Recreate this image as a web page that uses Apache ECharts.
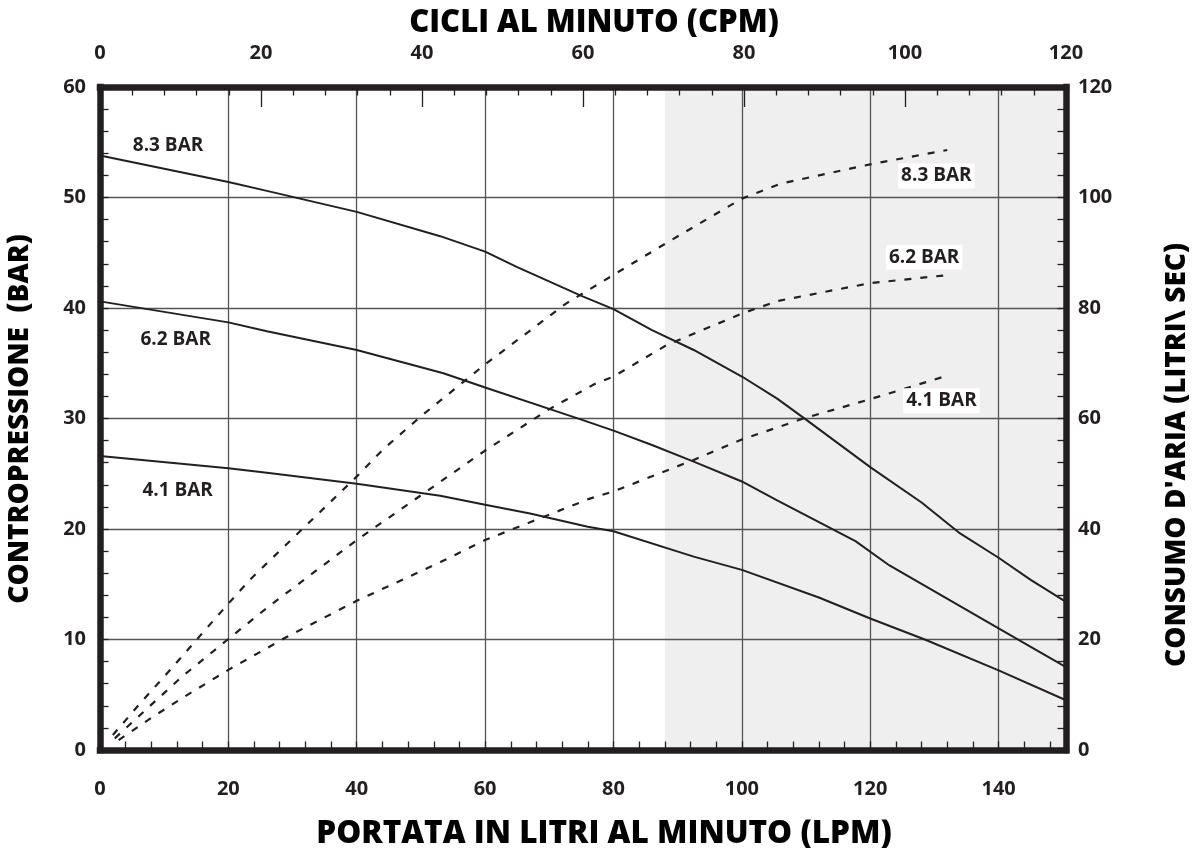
<!DOCTYPE html>
<html>
<head>
<meta charset="utf-8">
<script src="https://cdn.jsdelivr.net/npm/echarts@6/dist/echarts.min.js"></script>
<style>
  html, body { margin: 0; background: #fff; }
  #main { width: 1193px; height: 848px; }
</style>
</head>
<body>
<div id="main"></div>
<script type="text/javascript">

	var ink = '#231f20';

	// contropressione (BAR) against portata (LPM)
	var solid83 = [[0,53.8],[20,51.4],[26,50.6],[40,48.7],[53,46.5],[60,45.1],[65,43.7],[75,41.1],[80,39.9],[86,38.0],[92.5,36.2],[100,33.8],[105.5,31.8],[110,29.9],[120,25.6],[128,22.4],[134,19.6],[140,17.4],[145,15.4],[150.5,13.4]];
	var solid62 = [[0,40.6],[20,38.7],[26,37.9],[40,36.2],[53.5,34.1],[60,32.8],[75,29.9],[80,28.9],[86,27.6],[92.5,26.1],[100,24.3],[105.5,22.6],[117.7,18.9],[123,16.7],[140,11.0],[150.5,7.5]];
	var solid41 = [[0,26.6],[20,25.5],[26,25.1],[40,24.1],[53,23.0],[60,22.2],[67,21.4],[76,20.2],[80,19.8],[92.5,17.5],[100,16.3],[112,13.8],[120,11.9],[128.5,10.0],[140,7.2],[150.5,4.5]];

	// consumo d'aria (litri/sec) against portata (LPM)
	var air83 = [[2,2.7],[6,8.1],[10.7,14.2],[15,19.9],[20,26.5],[23.6,31.1],[40,49.5],[44,54.3],[50,60.4],[60,69.8],[72.6,80.8],[80,86.0],[88.3,91.8],[100,99.8],[106,102.5],[120,106.0],[132,108.6]];
	var air62 = [[2.3,2.1],[6.5,6.6],[12.8,13.3],[20,20.1],[26.2,25.9],[35.2,33.8],[40,38.0],[50,46.1],[60,54.2],[70,61.7],[77,66.2],[80,67.6],[88.3,73.3],[100,79.0],[105.7,81.3],[120,84.5],[132.4,86.0]];
	var air41 = [[2.9,1.8],[7.7,5.6],[12.8,9.4],[20,14.5],[29,20.4],[40,27.0],[53.2,34.1],[60,38.0],[76.3,45.5],[80,46.8],[92.5,52.5],[100,56.2],[109.6,60.0],[120,63.5],[132.4,67.9]];

	var lpmMax = 150.5;
	var shadeFrom = 88;

	// curve labels [name, lpm, value]
	var leftTags = [['8.3 BAR',10.6,54.7],['6.2 BAR',11.8,37.1],['4.1 BAR',12.1,23.5]];
	var rightTags = [['8.3 BAR',130.3,103.9],['6.2 BAR',128.4,89.2],['4.1 BAR',131.1,63.2]];

	var font = 'Open Sans';
	var tickLabel = { color: ink, fontFamily: font, fontWeight: 'bold', fontSize: 20 };
	var border = { show: true, onZero: false, lineStyle: { color: ink, width: 6.5, cap: 'square' } };
	var noLine = { show: false, onZero: false };
	var gridLine = { show: true, lineStyle: { color: '#555', width: 1.3 } };
	var tickStyle = { color: ink, width: 1.3 };

	function tag(t, boxed) {
		return {
			name: t[0], coord: [t[1], t[2]],
			label: {
				show: true, position: 'inside', formatter: '{b}',
				color: ink, fontFamily: font, fontWeight: 'bold', fontSize: 19,
				backgroundColor: boxed ? '#fff' : 'transparent', padding: [3, 3]
			}
		};
	}

	function curve(data, yIdx, dashed, tags, boxed) {
		return {
			type: 'line', xAxisIndex: 0, yAxisIndex: yIdx, data: data,
			showSymbol: false, silent: true,
			lineStyle: { color: ink, width: dashed ? 2.2 : 2, type: dashed ? [7, 9] : 'solid' },
			markPoint: {
				symbol: 'circle', symbolSize: 1, itemStyle: { color: 'rgba(0,0,0,0)' },
				data: tags.map(function (t) { return tag(t, boxed); })
			}
		};
	}

	var chart = echarts.init(document.getElementById('main'));
	chart.setOption({
		animation: false,
		grid: { left: 100, top: 87, width: 966, height: 663 },
		xAxis: [
			{
				type: 'value', position: 'bottom', min: 0, max: lpmMax, interval: 20,
				axisLine: border, axisTick: { show: false },
				axisLabel: Object.assign({ margin: 29, showMaxLabel: false }, tickLabel),
				splitLine: gridLine
			},
			{
				type: 'value', position: 'top', min: 0, max: 120, interval: 20,
				axisLine: border,
				axisTick: { show: true, inside: true, length: 20, lineStyle: tickStyle },
				minorTick: { show: true, splitNumber: 5, length: 8.5, lineStyle: tickStyle },
				axisLabel: Object.assign({ margin: 24 }, tickLabel),
				splitLine: { show: false }
			},
			{
				type: 'value', position: 'bottom', min: 0, max: lpmMax, interval: 4,
				axisLine: noLine,
				axisTick: { show: true, inside: true, length: 8.5, lineStyle: tickStyle },
				axisLabel: { show: false }, splitLine: { show: false }
			}
		],
		yAxis: [
			{
				type: 'value', position: 'left', min: 0, max: 60, interval: 10,
				axisLine: border,
				axisTick: { show: true, inside: true, length: 8.5, lineStyle: tickStyle },
				minorTick: { show: true, splitNumber: 5, length: 8.5, lineStyle: tickStyle },
				axisLabel: Object.assign({ margin: 14 }, tickLabel),
				splitLine: gridLine
			},
			{
				type: 'value', position: 'right', min: 0, max: 120, interval: 20,
				axisLine: border,
				axisTick: { show: true, inside: true, length: 8.5, lineStyle: tickStyle },
				minorTick: { show: true, splitNumber: 5, length: 8.5, lineStyle: tickStyle },
				axisLabel: Object.assign({ margin: 12 }, tickLabel),
				splitLine: { show: false }
			}
		],
		series: [
			{
				type: 'line', xAxisIndex: 0, yAxisIndex: 0, data: [], z: -1, silent: true,
				markArea: {
					silent: true, z: -1,
					itemStyle: { color: '#efefef' },
					data: [[{ xAxis: shadeFrom }, { xAxis: lpmMax }]]
				}
			},
			curve(solid83, 0, false, [leftTags[0]], false),
			curve(solid62, 0, false, [leftTags[1]], false),
			curve(solid41, 0, false, [leftTags[2]], false),
			curve(air83, 1, true, [rightTags[0]], true),
			curve(air62, 1, true, [rightTags[1]], true),
			curve(air41, 1, true, [rightTags[2]], true)
		],
		graphic: [
			{ type: 'text', x: 594, y: 23, style: { text: 'CICLI AL MINUTO (CPM)', fill: '#000', font: '800 31px "Open Sans"', align: 'center', verticalAlign: 'middle' } },
			{ type: 'text', x: 604, y: 834, style: { text: 'PORTATA IN LITRI AL MINUTO (LPM)', fill: '#000', font: '800 31.5px "Open Sans"', align: 'center', verticalAlign: 'middle' } },
			{ type: 'text', x: 20, y: 419, rotation: Math.PI / 2, style: { text: 'CONTROPRESSIONE  (BAR)', fill: '#000', font: '800 28px "Open Sans"', align: 'center', verticalAlign: 'middle' } },
			{ type: 'text', x: 1177, y: 455, rotation: Math.PI / 2, style: { text: "CONSUMO D'ARIA (LITRI\\ SEC)", fill: '#000', font: '800 28px "Open Sans"', align: 'center', verticalAlign: 'middle' } }
		]
	});
</script>
</body>
</html>
